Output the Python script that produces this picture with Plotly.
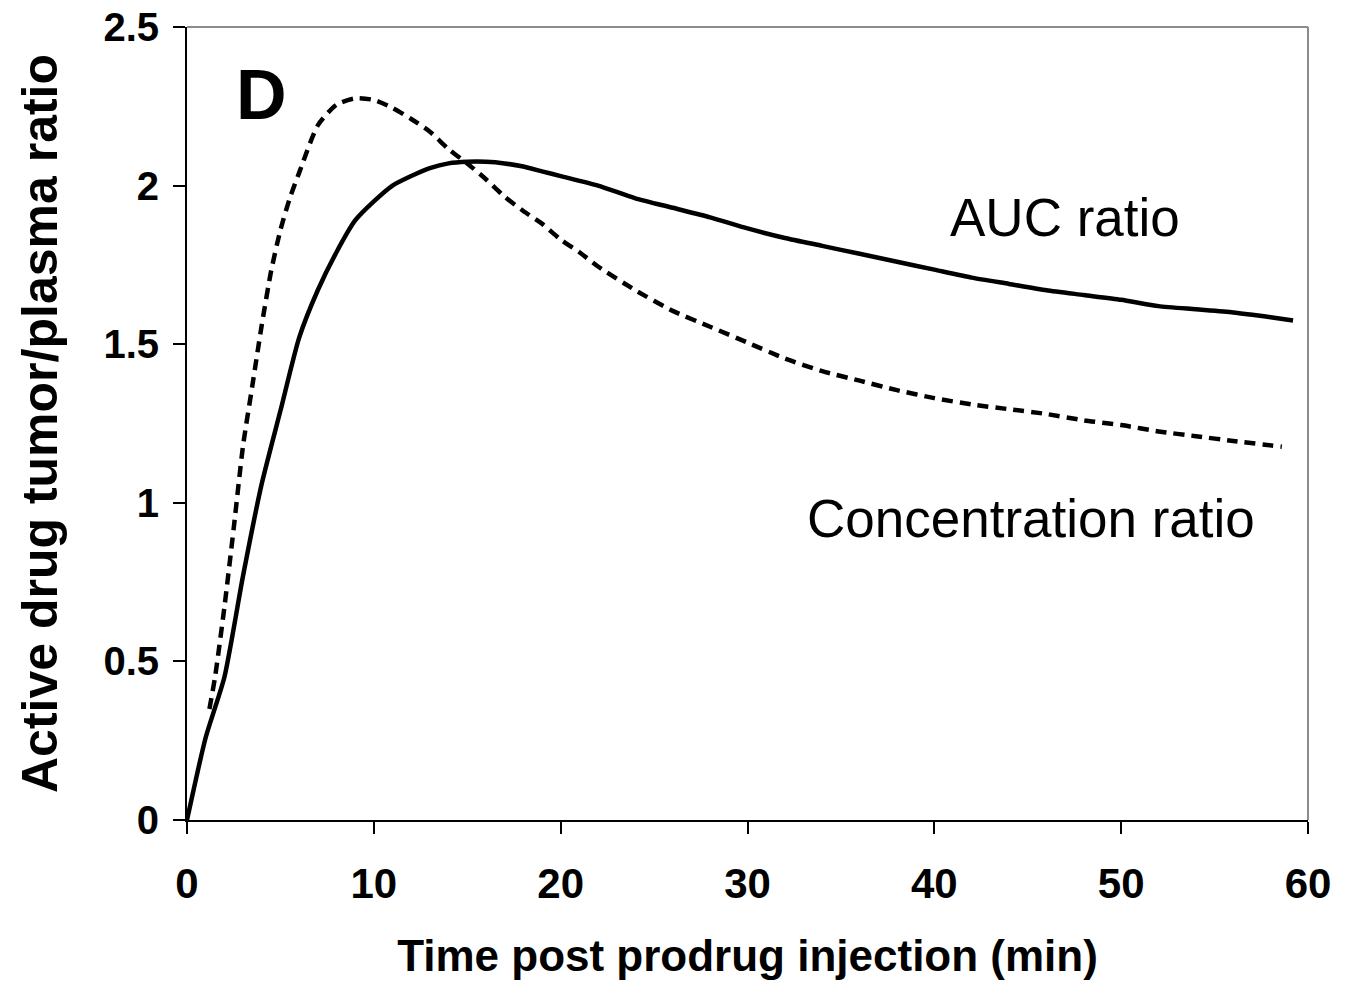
import plotly.graph_objects as go

# AUC ratio (solid)
auc_t = [0, 1, 2, 3, 4, 5, 6, 7, 8, 9, 10, 11, 12, 13, 14, 15, 16, 17, 18, 19, 20,
         22, 24, 26, 28, 30, 32, 34, 36, 38, 40, 42, 44, 46, 48, 50, 52, 54, 56, 58, 59.2]
auc_v = [0, 0.26, 0.45, 0.77, 1.06, 1.29, 1.52, 1.67, 1.79, 1.89, 1.95, 2.00, 2.03, 2.055, 2.07,
         2.075, 2.075, 2.07, 2.06, 2.045, 2.03, 2.00, 1.96, 1.93, 1.90, 1.865, 1.835, 1.81, 1.785,
         1.76, 1.735, 1.71, 1.69, 1.67, 1.655, 1.64, 1.62, 1.61, 1.60, 1.585, 1.575]

# Concentration ratio (dashed)
conc_t = [1.2, 1.5, 2, 2.5, 3, 3.5, 4, 4.5, 5, 5.5, 6, 7, 8, 9, 10, 11, 12, 13, 14, 15, 16, 17,
          18, 19, 20, 21, 22, 24, 26, 28, 30, 32, 34, 36, 38, 40, 42, 44, 46, 48, 50, 52, 54, 56, 58.6]
conc_v = [0.35, 0.45, 0.67, 0.92, 1.18, 1.37, 1.56, 1.73, 1.86, 1.96, 2.04, 2.19, 2.255, 2.275,
          2.27, 2.245, 2.21, 2.17, 2.115, 2.07, 2.02, 1.965, 1.92, 1.88, 1.83, 1.79, 1.745, 1.67,
          1.605, 1.555, 1.505, 1.455, 1.415, 1.385, 1.355, 1.33, 1.31, 1.295, 1.28, 1.26, 1.245,
          1.225, 1.21, 1.195, 1.177]

x_ticks = [0, 10, 20, 30, 40, 50, 60]
y_ticks = [0, 0.5, 1, 1.5, 2, 2.5]
y_tick_labels = ["0", "0.5", "1", "1.5", "2", "2.5"]

FONT = "Liberation Sans, Arial, sans-serif"

fig = go.Figure()
fig.add_trace(go.Scatter(x=auc_t, y=auc_v, mode="lines", name="AUC ratio",
                         line=dict(color="black", width=4.5, shape="spline", smoothing=0.6)))
fig.add_trace(go.Scatter(x=conc_t, y=conc_v, mode="lines", name="Concentration ratio",
                         line=dict(color="black", width=4.5, dash="11px,7px",
                                   shape="spline", smoothing=0.6)))

fig.update_layout(
    width=1345, height=988,
    margin=dict(l=187, r=37, t=27, b=168),
    paper_bgcolor="white", plot_bgcolor="white",
    showlegend=False,
    font=dict(family=FONT, color="black"),
)

fig.update_xaxes(
    range=[0, 60], tickvals=x_ticks, ticktext=[str(v) for v in x_ticks],
    automargin=False, ticklabeloverflow="allow",
    showgrid=False, zeroline=False, showline=True, linecolor="black", linewidth=2,
    ticks="outside", ticklen=12, tickwidth=2, tickcolor="black",
    tickfont=dict(family=FONT, size=42, weight="bold"),
    ticklabelstandoff=14,
    title=dict(text="Time post prodrug injection (min)",
               font=dict(family=FONT, size=44, weight="bold"), standoff=34),
)
fig.update_yaxes(
    range=[0, 2.5], tickvals=y_ticks, ticktext=y_tick_labels,
    automargin=False, ticklabeloverflow="allow",
    showgrid=False, zeroline=False, showline=True, linecolor="black", linewidth=2,
    ticks="outside", ticklen=12, tickwidth=2, tickcolor="black",
    tickfont=dict(family=FONT, size=40, weight="bold"),
    ticklabelstandoff=6,
    title=dict(text="Active drug tumor/plasma ratio",
               font=dict(family=FONT, size=50, weight="bold"), standoff=30),
)

# top and right frame lines (gray)
fig.add_shape(type="line", xref="paper", yref="paper", x0=0, x1=1, y0=1, y1=1,
              line=dict(color="#8c8c8c", width=2))
fig.add_shape(type="line", xref="paper", yref="paper", x0=1, x1=1, y0=0, y1=1,
              line=dict(color="#8c8c8c", width=2))

fig.add_annotation(x=4.0, y=2.285, xref="x", yref="y", text="D", showarrow=False,
                   font=dict(family=FONT, size=70, weight="bold", color="black"))
fig.add_annotation(x=47.0, y=1.9, xref="x", yref="y", text="AUC ratio", showarrow=False,
                   font=dict(family=FONT, size=53, color="black"))
fig.add_annotation(x=45.2, y=0.95, xref="x", yref="y", text="Concentration ratio",
                   showarrow=False, font=dict(family=FONT, size=53, color="black"))

fig.write_html("out.html", config={"displayModeBar": False},
               post_script="document.body.style.margin='0';")
